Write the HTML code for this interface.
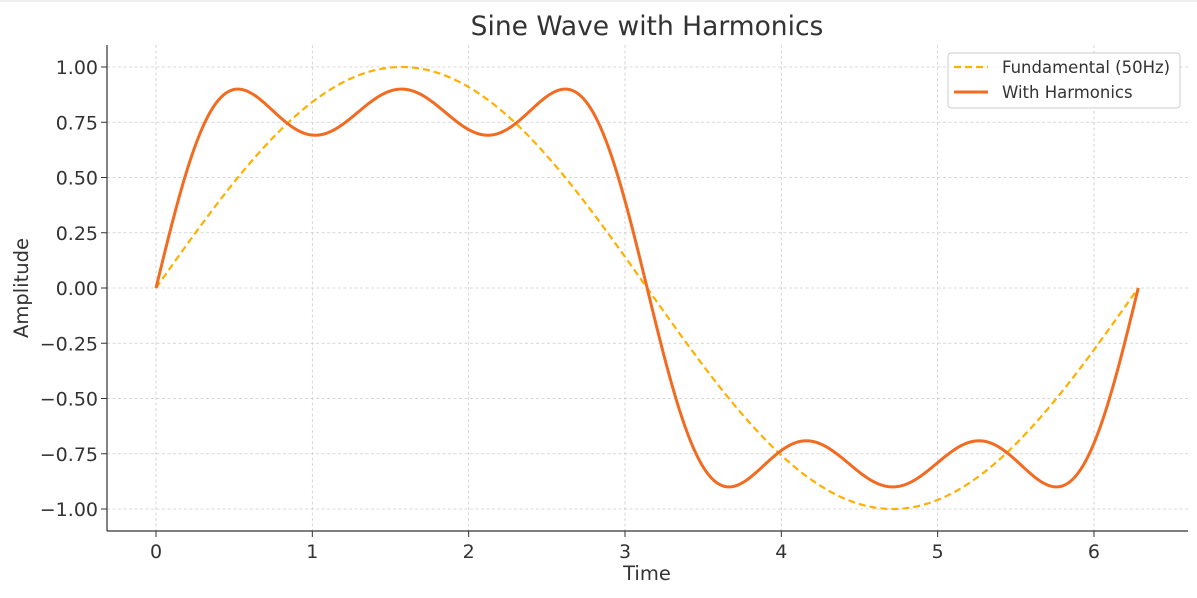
<!DOCTYPE html>
<html><head><meta charset="utf-8"><style>
body{margin:0;background:#fff;}
svg text{font-family:"DejaVu Sans","Liberation Sans",sans-serif;fill:#333;}
</style></head><body>
<svg id="s" width="1197" height="593" xmlns="http://www.w3.org/2000/svg">
<rect width="1197" height="593" fill="#fff"/>
<line x1="0" y1="1" x2="1197" y2="1" stroke="#ddd"/>
<g id="grid" stroke="#ccc" stroke-width="0.8" stroke-dasharray="3,2.5"></g>
<g id="ticks"></g>
<line x1="107" y1="45" x2="107" y2="531" stroke="#333" stroke-width="1.2"/>
<line x1="107" y1="531" x2="1188" y2="531" stroke="#333" stroke-width="1.2"/>
<path id="f" fill="none" stroke="#FFB000" stroke-width="2.2" stroke-dasharray="7,4"/>
<path id="h" fill="none" stroke="#F26B21" stroke-width="3"/>
<text x="647" y="35" font-size="26.5" text-anchor="middle">Sine Wave with Harmonics</text>
<text x="647" y="580" font-size="19.5" text-anchor="middle">Time</text>
<text transform="translate(28,288) rotate(-90)" font-size="19.5" text-anchor="middle">Amplitude</text>
<rect x="948" y="53" width="232" height="55" rx="3" fill="#fff" fill-opacity="0.85" stroke="#ccc"/>
<line x1="954" y1="67" x2="988" y2="67" stroke="#FFB000" stroke-width="2.2" stroke-dasharray="7,4"/>
<line x1="954" y1="92" x2="988" y2="92" stroke="#F26B21" stroke-width="3"/>
<text x="1002" y="73" font-size="16.5">Fundamental (50Hz)</text>
<text x="1002" y="98" font-size="16.5">With Harmonics</text>
</svg>
<script>
var X=function(x){return 156+x*156.33},Y=function(y){return 288-y*221};
var g=document.getElementById('grid'),t=document.getElementById('ticks'),s='',tt='';
for(var i=0;i<=6;i++){var x=X(i);s+='<line x1="'+x+'" y1="45" x2="'+x+'" y2="531"/>';tt+='<line x1="'+x+'" y1="531" x2="'+x+'" y2="537" stroke="#333"/><text x="'+x+'" y="558" font-size="19" text-anchor="middle">'+i+'</text>';}
for(var k=-4;k<=4;k++){var v=k*0.25,y=Y(v);s+='<line x1="107" y1="'+y+'" x2="1188" y2="'+y+'"/>';var lab=(v<0?'\u2212':'')+Math.abs(v).toFixed(2);tt+='<line x1="101" y1="'+y+'" x2="107" y2="'+y+'" stroke="#333"/><text x="98" y="'+(y+7)+'" font-size="19" text-anchor="end">'+lab+'</text>';}
g.innerHTML=s;t.innerHTML=tt;
var a='',b='';for(var j=0;j<=600;j++){var x=2*Math.PI*j/600;var f=Math.sin(x),h=Math.sin(x)+0.3*Math.sin(3*x)+0.2*Math.sin(5*x);a+=(j?'L':'M')+X(x).toFixed(2)+','+Y(f).toFixed(2);b+=(j?'L':'M')+X(x).toFixed(2)+','+Y(h).toFixed(2);}
document.getElementById('f').setAttribute('d',a);document.getElementById('h').setAttribute('d',b);
</script>
</body></html>
